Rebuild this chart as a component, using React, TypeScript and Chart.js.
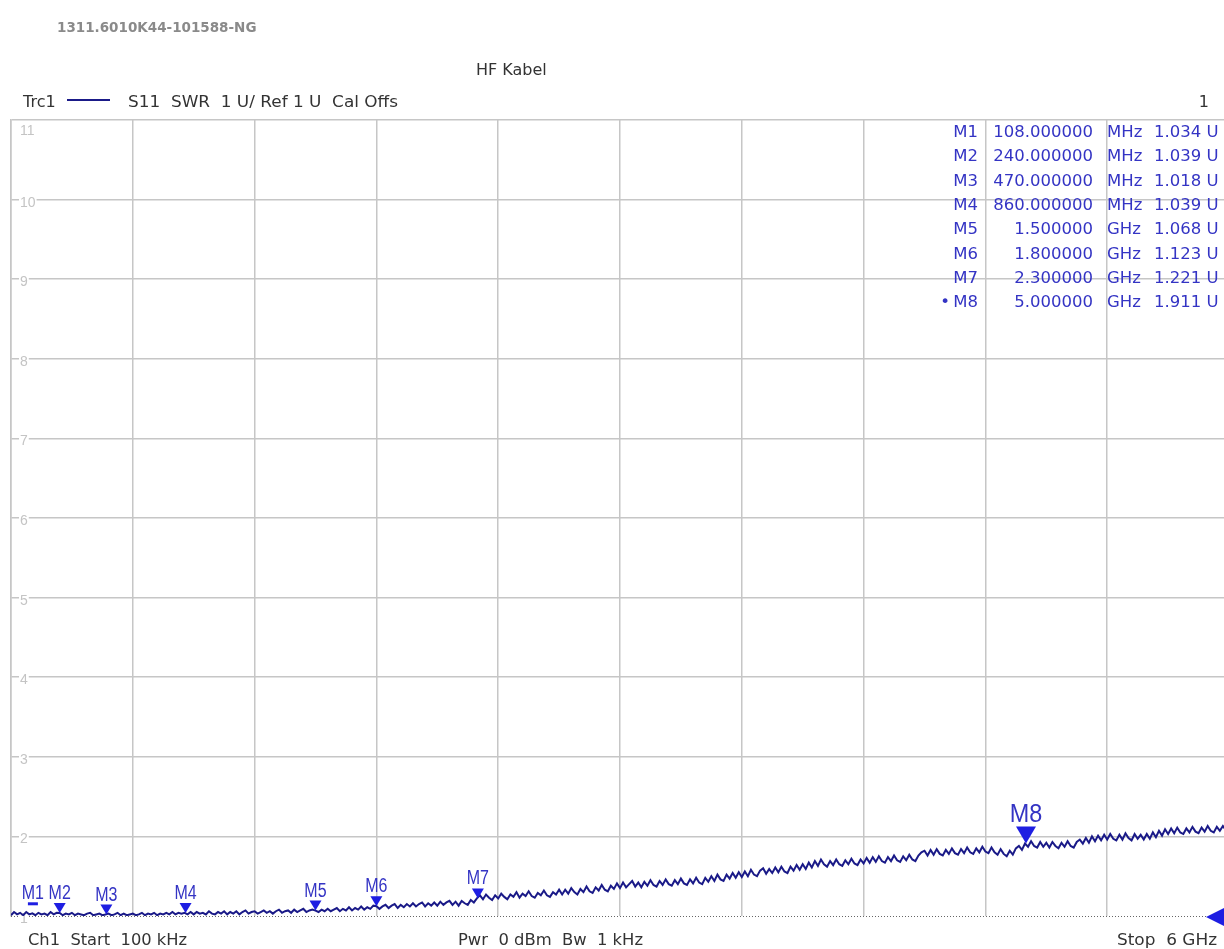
import { useEffect, useRef } from "react";
import { Chart, registerables } from "chart.js";

Chart.register(...registerables);

// Sweep setup
const FREQ_START_GHZ = 0.0001;
const FREQ_STOP_GHZ = 6;
const X_DIVISIONS = 10;
const REF_LEVEL = 1;

// S11 SWR trace, 401 sweep points from 100 kHz to 6 GHz
const SWR_TRACE = [
  1.01, 1.05, 1.02, 1.04, 1.01, 1.05, 1.02, 1.034, 1.01, 1.04, 1.02, 1.03, 1.01, 1.05, 1.02, 1.04, 1.039, 1.01, 1.03, 1.02,
  1.04, 1.01, 1.03, 1.02, 1.01, 1.03, 1.04, 1.01, 1.02, 1.03, 1.01, 1.018, 1.03, 1.01, 1.02, 1.04, 1.01, 1.03, 1.01, 1.02,
  1.03, 1.01, 1.02, 1.04, 1.01, 1.03, 1.02, 1.04, 1.01, 1.03, 1.02, 1.04, 1.02, 1.05, 1.02, 1.04, 1.03, 1.039, 1.02, 1.05,
  1.02, 1.05, 1.03, 1.04, 1.02, 1.06, 1.03, 1.02, 1.05, 1.03, 1.06, 1.02, 1.05, 1.03, 1.06, 1.02, 1.05, 1.07, 1.03, 1.05,
  1.06, 1.03, 1.05, 1.07, 1.04, 1.06, 1.03, 1.06, 1.08, 1.04, 1.06, 1.07, 1.04, 1.08, 1.05, 1.07, 1.09, 1.05, 1.07, 1.08,
  1.068, 1.05, 1.08, 1.06, 1.09, 1.06, 1.08, 1.1, 1.06, 1.09, 1.07, 1.11, 1.07, 1.1, 1.08, 1.12, 1.08, 1.11, 1.09, 1.13,
  1.123, 1.09, 1.12, 1.14, 1.1, 1.13, 1.15, 1.1, 1.14, 1.11, 1.15, 1.12, 1.16, 1.12, 1.15, 1.17, 1.12, 1.16, 1.13, 1.17,
  1.13, 1.18, 1.14, 1.17, 1.19, 1.14, 1.18, 1.13, 1.19, 1.16, 1.14, 1.2, 1.17, 1.221, 1.26, 1.21, 1.27, 1.23, 1.2, 1.26,
  1.22, 1.28, 1.24, 1.21, 1.27, 1.24, 1.3, 1.23, 1.28, 1.25, 1.31, 1.25, 1.23, 1.29, 1.26, 1.32, 1.26, 1.24, 1.3, 1.27,
  1.33, 1.27, 1.33, 1.28, 1.35, 1.3, 1.27, 1.34, 1.3, 1.37, 1.31, 1.29, 1.36, 1.32, 1.39, 1.33, 1.31, 1.38, 1.34, 1.41,
  1.35, 1.42, 1.36, 1.4, 1.44, 1.37, 1.42, 1.36, 1.43, 1.38, 1.45, 1.39, 1.37, 1.44, 1.39, 1.46, 1.4, 1.38, 1.45, 1.4,
  1.47, 1.41, 1.39, 1.46, 1.41, 1.48, 1.42, 1.4, 1.48, 1.43, 1.5, 1.44, 1.52, 1.46, 1.44, 1.52, 1.47, 1.54, 1.48, 1.55,
  1.49, 1.56, 1.5, 1.58, 1.52, 1.5, 1.57, 1.6, 1.53, 1.59, 1.54, 1.61, 1.55, 1.62, 1.56, 1.54, 1.62, 1.57, 1.64, 1.58,
  1.65, 1.59, 1.67, 1.61, 1.69, 1.63, 1.71, 1.65, 1.62, 1.69, 1.64, 1.71, 1.65, 1.63, 1.7, 1.65, 1.72, 1.66, 1.64, 1.71,
  1.66, 1.73, 1.67, 1.74, 1.68, 1.75, 1.69, 1.67, 1.74, 1.69, 1.76, 1.7, 1.68, 1.75, 1.7, 1.77, 1.71, 1.69, 1.76, 1.8,
  1.82, 1.76, 1.83, 1.77, 1.84, 1.78, 1.76, 1.83, 1.78, 1.85, 1.79, 1.77, 1.84, 1.79, 1.86, 1.8, 1.78, 1.85, 1.8, 1.87,
  1.81, 1.79, 1.86, 1.8, 1.77, 1.84, 1.78, 1.75, 1.82, 1.77, 1.85, 1.88, 1.83, 1.911, 1.87, 1.94, 1.88, 1.86, 1.93, 1.87,
  1.92, 1.86, 1.93, 1.88, 1.85, 1.92, 1.87, 1.94, 1.88, 1.86, 1.93, 1.96, 1.91, 1.98, 1.92, 2.0, 1.94, 2.01, 1.95, 2.02,
  1.96, 2.03, 1.97, 1.95, 2.02, 1.96, 2.04, 1.98, 1.95, 2.03, 1.97, 2.02, 1.96, 2.03, 1.97, 2.05, 1.99, 2.07, 2.01, 2.09,
  2.03, 2.1, 2.04, 2.11, 2.05, 2.03, 2.1, 2.05, 2.12, 2.06, 2.04, 2.11, 2.06, 2.13, 2.07, 2.05, 2.12, 2.07, 2.13, 2.08,
  2.11,
];

// Markers
const MARKER_NAMES = ["M1", "M2", "M3", "M4", "M5", "M6", "M7", "M8"];
const MARKER_FREQ_GHZ = [0.108, 0.24, 0.47, 0.86, 1.5, 1.8, 2.3, 5.0];
const MARKER_STIMULUS = ["108.000000", "240.000000", "470.000000", "860.000000", "1.500000", "1.800000", "2.300000", "5.000000"];
const MARKER_UNITS = ["MHz", "MHz", "MHz", "MHz", "GHz", "GHz", "GHz", "GHz"];
const MARKER_SWR = [1.034, 1.039, 1.018, 1.039, 1.068, 1.123, 1.221, 1.911];
const ACTIVE_MARKER = 7;

// Y axis divisions (U)
const Y_TICKS = [1, 2, 3, 4, 5, 6, 7, 8, 9, 10, 11];

// Annotation texts
const DEVICE_ID = "1311.6010K44-101588-NG";
const TITLE = "HF Kabel";
const TRACE_NAME = "Trc1";
const TRACE_INFO = "S11  SWR  1 U/ Ref 1 U  Cal Offs";
const CHANNEL_NO = "1";
const FOOTER_LEFT = "Ch1  Start  100 kHz";
const FOOTER_MID = "Pwr  0 dBm  Bw  1 kHz";
const FOOTER_RIGHT = "Stop  6 GHz";

const TRACE_COLOR = "#1a1a88";
const MARKER_COLOR = "#1e1ee2";
const MARKER_TEXT = "#3434c4";
const GRID_COLOR = "#c6c6c6";
const TEXT_COLOR = "#333333";
const SANS = '"DejaVu Sans", Verdana, sans-serif';
const NARROW = '"Liberation Sans", Arial, sans-serif';

const FREQS = SWR_TRACE.map(
  (_, i) => FREQ_START_GHZ + (i * (FREQ_STOP_GHZ - FREQ_START_GHZ)) / (SWR_TRACE.length - 1)
);

// draws text squeezed or stretched horizontally to span a given width
function fillTextFit(ctx: CanvasRenderingContext2D, text: string, x: number, y: number, width: number) {
  const w = ctx.measureText(text).width;
  ctx.save();
  ctx.translate(x, y);
  ctx.scale(width / w, 1);
  ctx.textAlign = "left";
  ctx.fillText(text, 0, 0);
  ctx.restore();
}

const overlayPlugin = {
  id: "vnaOverlay",
  beforeDatasetsDraw(chart: any) {
    const { ctx, chartArea, scales } = chart;
    const y = scales.y;
    ctx.save();
    // dotted reference line
    const yRef = Math.round(y.getPixelForValue(REF_LEVEL)) + 0.5;
    ctx.strokeStyle = "#666";
    ctx.lineWidth = 1;
    ctx.setLineDash([1, 2]);
    ctx.beginPath();
    ctx.moveTo(chartArea.left, yRef);
    ctx.lineTo(chartArea.right, yRef);
    ctx.stroke();
    ctx.setLineDash([]);

    // division labels sitting on the grid lines
    ctx.font = `14px ${NARROW}`;
    ctx.textBaseline = "alphabetic";
    ctx.textAlign = "left";
    const top = Y_TICKS[Y_TICKS.length - 1];
    for (const v of Y_TICKS) {
      const py = y.getPixelForValue(v);
      const label = String(v);
      const w = ctx.measureText(label).width;
      const lx = chartArea.left + 9;
      if (v === top) {
        ctx.fillStyle = "#c4c4c4";
        ctx.fillText(label, lx, py + 15);
      } else {
        ctx.fillStyle = "#ffffff";
        ctx.fillRect(lx - 1, py - 3, w + 2, 6);
        ctx.fillStyle = "#c4c4c4";
        ctx.fillText(label, lx, py + 7);
      }
    }
    ctx.restore();
  },
  afterDatasetsDraw(chart: any) {
    const { ctx, scales } = chart;
    const x = scales.x;
    const y = scales.y;
    ctx.save();
    MARKER_NAMES.forEach((name, i) => {
      const px = x.getPixelForValue(MARKER_FREQ_GHZ[i]);
      const py = y.getPixelForValue(MARKER_SWR[i]);
      const active = i === ACTIVE_MARKER;
      const tw = active ? 20 : 12;
      const th = active ? 17 : 10;
      ctx.fillStyle = MARKER_COLOR;
      if (i === 0) {
        ctx.fillRect(px - 5, py - th - 1, 10, 3);
      } else {
        ctx.beginPath();
        ctx.moveTo(px - tw / 2, py - th);
        ctx.lineTo(px + tw / 2, py - th);
        ctx.lineTo(px, py);
        ctx.closePath();
        ctx.fill();
      }
      ctx.save();
      ctx.translate(px, py - th - 4);
      ctx.scale(active ? 0.9 : 0.8, 1);
      ctx.font = `${active ? 26 : 20}px ${NARROW}`;
      ctx.textAlign = "center";
      ctx.textBaseline = "alphabetic";
      ctx.fillStyle = MARKER_TEXT;
      ctx.fillText(name, 0, 0);
      ctx.restore();
    });
    ctx.restore();
  },
  afterDraw(chart: any) {
    const { ctx, chartArea, scales } = chart;
    const y = scales.y;
    ctx.save();

    // marker readout table
    ctx.font = `16.5px ${SANS}`;
    ctx.fillStyle = MARKER_TEXT;
    ctx.textBaseline = "alphabetic";
    MARKER_NAMES.forEach((name, i) => {
      const by = chartArea.top + 17 + i * 24.3;
      ctx.textAlign = "right";
      ctx.fillText(name, 978, by);
      ctx.fillText(MARKER_STIMULUS[i], 1093, by);
      ctx.textAlign = "left";
      ctx.fillText(MARKER_UNITS[i], 1107, by);
      ctx.fillText(`${MARKER_SWR[i].toFixed(3)} U`, 1154, by);
      if (i === ACTIVE_MARKER) {
        ctx.textAlign = "right";
        ctx.fillText("\u2022", 950, by);
      }
    });

    // reference level arrow at the right edge
    const yRef = y.getPixelForValue(REF_LEVEL);
    ctx.fillStyle = MARKER_COLOR;
    ctx.beginPath();
    ctx.moveTo(1206, yRef + 1);
    ctx.lineTo(1230, yRef - 11);
    ctx.lineTo(1230, yRef + 13);
    ctx.closePath();
    ctx.fill();

    // header
    ctx.textAlign = "left";
    ctx.font = `bold 13.5px ${SANS}`;
    ctx.fillStyle = "#8a8a8a";
    ctx.fillText(DEVICE_ID, 57, 32);

    ctx.font = `16px ${SANS}`;
    ctx.fillStyle = TEXT_COLOR;
    ctx.fillText(TITLE, 476, 75);
    ctx.fillText(TRACE_NAME, 23, 107);
    fillTextFit(ctx, TRACE_INFO, 128, 107, 270);
    ctx.textAlign = "right";
    ctx.fillText(CHANNEL_NO, 1209, 107);
    ctx.strokeStyle = TRACE_COLOR;
    ctx.lineWidth = 2;
    ctx.beginPath();
    ctx.moveTo(67, 100);
    ctx.lineTo(110, 100);
    ctx.stroke();

    // footer
    ctx.fillStyle = TEXT_COLOR;
    fillTextFit(ctx, FOOTER_LEFT, 28, 945, 159);
    fillTextFit(ctx, FOOTER_MID, 458, 945, 185);
    fillTextFit(ctx, FOOTER_RIGHT, 1117, 945, 100);
    ctx.restore();
  },
};

export default function App() {
  const canvasRef = useRef<HTMLCanvasElement | null>(null);

  useEffect(() => {
    if (!canvasRef.current) return;
    const chart = new Chart(canvasRef.current, {
      type: "line",
      data: {
        datasets: [
          {
            label: "S11 SWR",
            data: FREQS.map((f, i) => ({ x: f, y: SWR_TRACE[i] })),
            borderColor: TRACE_COLOR,
            borderWidth: 2,
            pointRadius: 0,
            tension: 0,
            fill: false,
          },
        ],
      },
      options: {
        responsive: false,
        animation: false,
        devicePixelRatio: 1,
        layout: { padding: { left: 11, top: 120, right: 11, bottom: 33 } },
        plugins: {
          legend: { display: false },
          tooltip: { enabled: false },
          title: { display: false },
        },
        scales: {
          x: {
            type: "linear",
            min: FREQ_START_GHZ,
            max: FREQ_STOP_GHZ,
            afterBuildTicks: (scale: any) => {
              const step = (FREQ_STOP_GHZ - FREQ_START_GHZ) / X_DIVISIONS;
              scale.ticks = Array.from({ length: X_DIVISIONS + 1 }, (_, i) => ({
                value: FREQ_START_GHZ + i * step,
              }));
            },
            grid: { color: GRID_COLOR, lineWidth: 1.5, drawTicks: false },
            border: { display: false },
            ticks: { display: false, padding: 0 },
          },
          y: {
            type: "linear",
            min: Y_TICKS[0],
            max: Y_TICKS[Y_TICKS.length - 1],
            afterBuildTicks: (scale: any) => {
              scale.ticks = Y_TICKS.map((v) => ({ value: v }));
            },
            grid: {
              color: (c: any) => (c.tick && c.tick.value === REF_LEVEL ? "rgba(0,0,0,0)" : GRID_COLOR),
              lineWidth: 1.5,
              drawTicks: false,
            },
            border: { display: true, color: GRID_COLOR, width: 1.5 },
            ticks: { display: false, padding: 0 },
          },
        },
      },
      plugins: [overlayPlugin],
    });
    return () => chart.destroy();
  }, []);

  return (
    <div
      style={{
        position: "absolute",
        left: 0,
        top: 0,
        width: 1224,
        height: 949,
        overflow: "hidden",
        background: "#ffffff",
      }}
    >
      <canvas ref={canvasRef} width={1240} height={949} style={{ display: "block" }} />
    </div>
  );
}
